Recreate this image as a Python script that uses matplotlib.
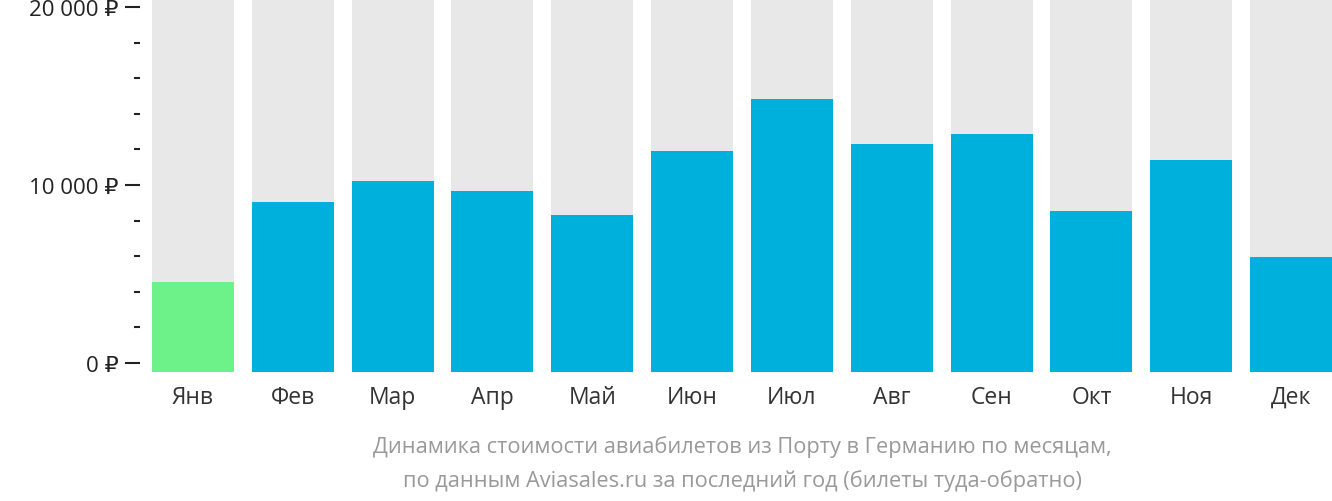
import matplotlib

matplotlib.use("Agg")
import matplotlib.pyplot as plt
from matplotlib.ticker import MultipleLocator, FuncFormatter

MONTHS = ["Янв", "Фев", "Мар", "Апр", "Май", "Июн", "Июл", "Авг", "Сен", "Окт", "Ноя", "Дек"]
PRICES = [4550, 9050, 10230, 9660, 8320, 11910, 14830, 12300, 12870, 8540, 11400, 5960]
CAPTION = ("Динамика стоимости авиабилетов из Порту в Германию по месяцам,\n"
           "по данным Aviasales.ru за последний год (билеты туда-обратно)")

plt.rcParams["font.family"] = ["Open Sans", "DejaVu Sans"]

W, H = 1332, 502
fig = plt.figure(figsize=(W / 100, H / 100), dpi=100)
ax = fig.add_axes([152 / W, (H - 373) / H, 1180 / W, 373 / H])

# value axis: 0 sits 9px above the bar base, 20 000 at 8px from top (356px span)
per_px = 20000 / 356
ylo, yhi = -9 * per_px, 364 * per_px
ax.set_ylim(ylo, yhi)

x = range(len(MONTHS))
ax.bar(x, [yhi - ylo] * len(MONTHS), bottom=ylo, width=0.82, color="#e8e8e8")
colors = ["#6cf288" if p == min(PRICES) else "#00b0dc" for p in PRICES]
ax.bar(x, [p - ylo for p in PRICES], bottom=ylo, width=0.82, color=colors)

ax.set_xlim(-0.41, len(MONTHS) - 0.59)
for s in ax.spines.values():
    s.set_visible(False)
ax.spines["left"].set_position(("outward", 9))

ax.yaxis.set_major_locator(MultipleLocator(10000))
ax.yaxis.set_minor_locator(MultipleLocator(2000))
ax.yaxis.set_major_formatter(FuncFormatter(lambda v, _: f"{int(v):,}".replace(",", " ") + " ₽"))
ax.tick_params(axis="y", which="major", length=11, width=1.5, color="#222222",
               labelsize=16, labelcolor="#222222", pad=4)
ax.tick_params(axis="y", which="minor", length=4, width=1.5, color="#222222")

ax.set_xticks(list(x))
ax.set_xticklabels(MONTHS)
ax.tick_params(axis="x", length=0, labelsize=16.5, labelcolor="#333333", pad=9)

fig.text(742 / W, 1 - 464 / H, CAPTION, ha="center", va="center",
         fontsize=15.7, color="#999999", linespacing=1.75)

fig.savefig("out.png", dpi=100)
